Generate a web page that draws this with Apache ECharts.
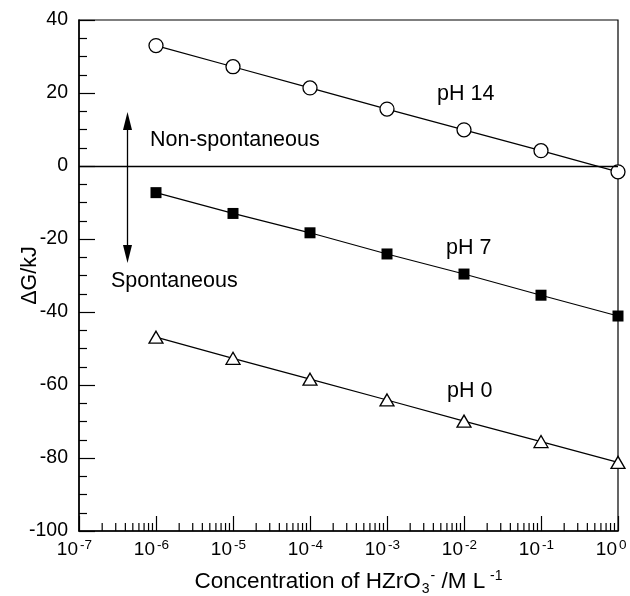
<!DOCTYPE html>
<html>
<head>
<meta charset="utf-8">
<script src="https://cdn.jsdelivr.net/npm/echarts@6/dist/echarts.min.js"></script>
<style>html,body{margin:0;padding:0;background:#fff}#c{width:630px;height:596px}</style>
</head>
<body>
<div id="c"></div>
<script>
const concentrations = [1e-6, 1e-5, 1e-4, 1e-3, 1e-2, 1e-1, 1];
const pH14 = [33.0, 27.2, 21.4, 15.6, 9.9, 4.2, -1.6];
const pH7 = [-7.3, -13.0, -18.3, -24.1, -29.6, -35.4, -41.1];
const pH0 = [-46.9, -52.7, -58.4, -64.1, -69.9, -75.5, -81.2];
const decadeExponents = [-7, -6, -5, -4, -3, -2, -1, 0];
const minorMultipliers = [2, 3, 4, 5, 6, 7, 8, 9];

const FONT = 'Liberation Sans';
const minorTicks = [];
decadeExponents.slice(0, -1).forEach(e => minorMultipliers.forEach(m => minorTicks.push([m * Math.pow(10, e), -100])));

const chart = echarts.init(document.getElementById('c'), null, {renderer: 'canvas'});
const pair = arr => concentrations.map((c, i) => [c, arr[i]]);
const annot = (text, x, y) => ({type: 'text', x: x, y: y, style: {text: text, font: '21.5px "Liberation Sans"', fill: '#000', verticalAlign: 'middle', align: 'left'}});

chart.setOption({
  animation: false,
  grid: {left: 79, right: 12, top: 20, bottom: 65, show: true, borderColor: '#000', borderWidth: 1.2, outerBoundsMode: 'none', containLabel: false},
  xAxis: [{
    type: 'log', logBase: 10, min: 1e-7, max: 1, position: 'bottom',
    axisLine: {onZero: false, lineStyle: {color: '#000', width: 1.5}},
    axisTick: {inside: true, length: 15, lineStyle: {color: '#000', width: 1.2}},
    splitLine: {show: false},
    axisLabel: {margin: 9, color: '#000', fontFamily: FONT, fontSize: 19, align: 'right', padding: [0, 1, 0, 0],
      formatter: () => '10'},
    name: '{t|Concentration of HZrO}{sub|3}{sup|-}{t| /M L}{sup| -1}',
    nameLocation: 'middle', nameGap: 36, nameMoveOverlap: false,
    nameTextStyle: {
      rich: {
        t: {fontSize: 22.5, fontFamily: FONT, color: '#000'},
        sub: {fontSize: 14, fontFamily: FONT, color: '#000', padding: [15, 0, 0, 1]},
        sup: {fontSize: 14, fontFamily: FONT, color: '#000', padding: [0, 0, 11, 1]}
      }
    }
  }, {
    type: 'log', logBase: 10, min: 1e-7, max: 1, position: 'bottom',
    axisLine: {show: false, onZero: false},
    axisTick: {show: false},
    splitLine: {show: false},
    axisLabel: {margin: 7, color: '#000', fontFamily: FONT, fontSize: 13.5, align: 'left', padding: [0, 0, 0, 1],
      formatter: v => String(Math.round(Math.log10(v)))}
  }],
  yAxis: {
    type: 'value', min: -100, max: 40, interval: 20,
    axisLine: {onZero: false, lineStyle: {color: '#000', width: 1.5}},
    axisTick: {inside: true, length: 16, lineStyle: {color: '#000', width: 1.2}},
    minorTick: {show: true, splitNumber: 4, length: 8, lineStyle: {color: '#000', width: 1.2}},
    splitLine: {show: false},
    axisLabel: {margin: 11, fontSize: 19.5, color: '#000', fontFamily: FONT},
    name: 'ΔG/kJ', nameLocation: 'middle', nameGap: 38, nameMoveOverlap: false,
    nameTextStyle: {fontSize: 21.5, color: '#000', fontFamily: FONT}
  },
  graphic: [
    annot('Non-spontaneous', 150, 140),
    annot('Spontaneous', 111, 281),
    annot('pH 14', 437, 94),
    annot('pH 7', 446, 248),
    annot('pH 0', 447, 391),
    {type: 'line', shape: {x1: 127.5, y1: 125, x2: 127.5, y2: 250}, style: {stroke: '#000', lineWidth: 1.3}},
    {type: 'polygon', shape: {points: [[127.5, 112], [123, 130], [132, 130]]}, style: {fill: '#000'}},
    {type: 'polygon', shape: {points: [[127.5, 263], [123, 245], [132, 245]]}, style: {fill: '#000'}}
  ],
  series: [
    {
      type: 'custom', silent: true, clip: false, z: 5,
      data: minorTicks,
      renderItem: (params, api) => {
        const p = api.coord([api.value(0), api.value(1)]);
        return {type: 'line', shape: {x1: p[0], y1: p[1], x2: p[0], y2: p[1] - 8}, style: {stroke: '#000', lineWidth: 1.2}};
      }
    },
    {
      name: 'pH 14', type: 'line', data: pair(pH14), clip: false, z: 3,
      symbol: 'circle', symbolSize: 14,
      lineStyle: {color: '#000', width: 1.2},
      itemStyle: {color: '#fff', borderColor: '#000', borderWidth: 1.3},
      markLine: {silent: true, symbol: 'none', label: {show: false}, lineStyle: {color: '#000', width: 1.3, type: 'solid'}, data: [{yAxis: 0}]}
    },
    {
      name: 'pH 7', type: 'line', data: pair(pH7), clip: false, z: 3,
      symbol: 'rect', symbolSize: 11,
      lineStyle: {color: '#000', width: 1.2},
      itemStyle: {color: '#000', borderColor: '#000', borderWidth: 0}
    },
    {
      name: 'pH 0', type: 'line', data: pair(pH0), clip: false, z: 3,
      symbol: 'triangle', symbolSize: [14, 12],
      lineStyle: {color: '#000', width: 1.2},
      itemStyle: {color: '#fff', borderColor: '#000', borderWidth: 1.3}
    }
  ]
});
</script>
</body>
</html>
